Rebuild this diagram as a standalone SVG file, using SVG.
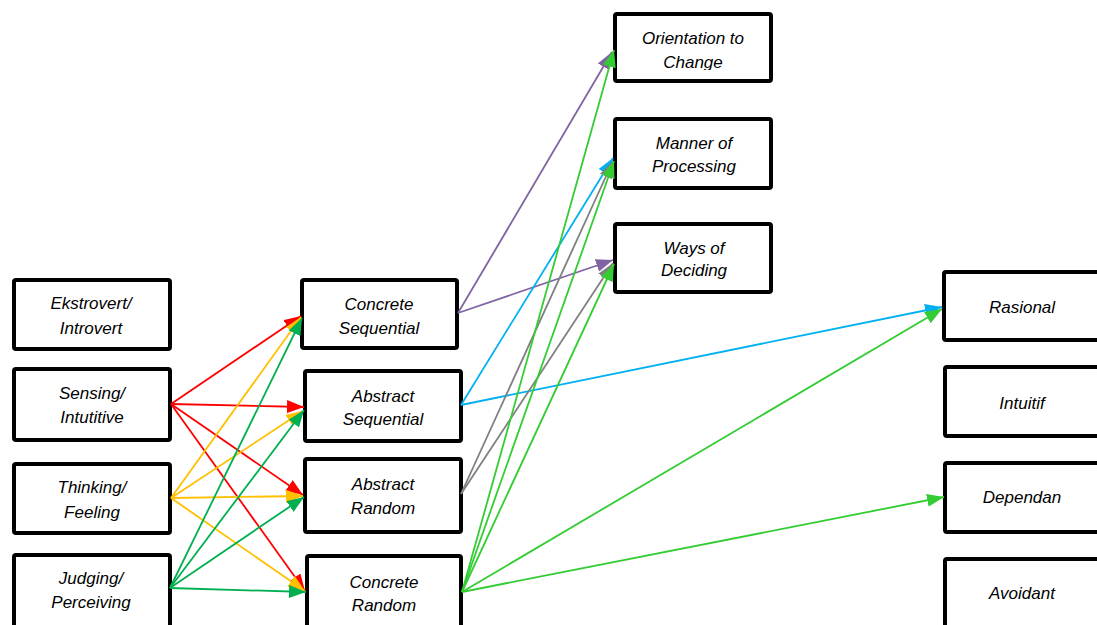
<svg xmlns="http://www.w3.org/2000/svg" width="1097" height="625" viewBox="0 0 1097 625">
<defs>
<style>
.box{fill:#fff;stroke:#000;stroke-width:4}
.t{font-family:"Liberation Sans",Arial,sans-serif;font-style:italic;font-size:17px;fill:#000;text-anchor:middle}
.c{fill:none;stroke-width:1.8}
</style>
<marker id="aR" markerUnits="userSpaceOnUse" markerWidth="17" markerHeight="13" refX="17" refY="6.5" orient="auto"><path d="M0,0 L17,6.5 L0,13 z" fill="#ff0000"/></marker>
<marker id="aY" markerUnits="userSpaceOnUse" markerWidth="17" markerHeight="13" refX="17" refY="6.5" orient="auto"><path d="M0,0 L17,6.5 L0,13 z" fill="#ffc000"/></marker>
<marker id="aG" markerUnits="userSpaceOnUse" markerWidth="17" markerHeight="13" refX="17" refY="6.5" orient="auto"><path d="M0,0 L17,6.5 L0,13 z" fill="#00b050"/></marker>
<marker id="aP" markerUnits="userSpaceOnUse" markerWidth="17" markerHeight="13" refX="17" refY="6.5" orient="auto"><path d="M0,0 L17,6.5 L0,13 z" fill="#8064a2"/></marker>
<marker id="aB" markerUnits="userSpaceOnUse" markerWidth="17" markerHeight="13" refX="17" refY="6.5" orient="auto"><path d="M0,0 L17,6.5 L0,13 z" fill="#00b0f0"/></marker>
<marker id="aK" markerUnits="userSpaceOnUse" markerWidth="17" markerHeight="13" refX="17" refY="6.5" orient="auto"><path d="M0,0 L17,6.5 L0,13 z" fill="#808080"/></marker>
<marker id="aL" markerUnits="userSpaceOnUse" markerWidth="17" markerHeight="13" refX="17" refY="6.5" orient="auto"><path d="M0,0 L17,6.5 L0,13 z" fill="#33cc33"/></marker>
<clipPath id="clipOC"><rect x="617" y="16" width="152" height="54"/></clipPath>
</defs>

<g id="ekstrovert"><rect class="box" x="14" y="280" width="156" height="69" rx="2"/><text class="t" x="91" y="309">Ekstrovert/</text><text class="t" x="91" y="334">Introvert</text></g>
<g id="sensing"><rect class="box" x="14" y="369" width="156" height="71" rx="2"/><text class="t" x="92" y="399">Sensing/</text><text class="t" x="92" y="423">Intutitive</text></g>
<g id="thinking"><rect class="box" x="14" y="464" width="156" height="69" rx="2"/><text class="t" x="92" y="493">Thinking/</text><text class="t" x="92" y="518">Feeling</text></g>
<g id="judging"><rect class="box" x="14" y="555" width="156" height="80" rx="2"/><text class="t" x="91" y="584">Judging/</text><text class="t" x="91" y="608">Perceiving</text></g>

<g id="concrete-sequential"><rect class="box" x="302" y="280" width="155" height="68" rx="2"/><text class="t" x="379" y="310">Concrete</text><text class="t" x="379" y="334">Sequential</text></g>
<g id="abstract-sequential"><rect class="box" x="305" y="371" width="156" height="70" rx="2"/><text class="t" x="383" y="402">Abstract</text><text class="t" x="383" y="425">Sequential</text></g>
<g id="abstract-random"><rect class="box" x="305" y="459" width="156" height="73" rx="2"/><text class="t" x="383" y="490">Abstract</text><text class="t" x="383" y="514">Random</text></g>
<g id="concrete-random"><rect class="box" x="307" y="556" width="154" height="80" rx="2"/><text class="t" x="384" y="588">Concrete</text><text class="t" x="384" y="611">Random</text></g>

<g id="orientation"><rect class="box" x="615" y="14" width="156" height="67" rx="2"/><g clip-path="url(#clipOC)"><text class="t" x="693" y="44">Orientation to</text><text class="t" x="693" y="68">Change</text></g></g>
<g id="manner"><rect class="box" x="615" y="119" width="156" height="69" rx="2"/><text class="t" x="694" y="149">Manner of</text><text class="t" x="694" y="172">Processing</text></g>
<g id="ways"><rect class="box" x="615" y="224" width="156" height="68" rx="2"/><text class="t" x="694" y="254">Ways of</text><text class="t" x="694" y="276">Deciding</text></g>

<g id="rasional"><rect class="box" x="944" y="272" width="160" height="68" rx="2"/><text class="t" x="1022" y="313">Rasional</text></g>
<g id="intuitif"><rect class="box" x="945" y="367" width="160" height="69" rx="2"/><text class="t" x="1022" y="409">Intuitif</text></g>
<g id="dependan"><rect class="box" x="945" y="463" width="160" height="69" rx="2"/><text class="t" x="1022" y="503">Dependan</text></g>
<g id="avoidant"><rect class="box" x="945" y="559" width="160" height="80" rx="2"/><text class="t" x="1022" y="599">Avoidant</text></g>

<g id="connectors">
<line class="c" stroke="#ff0000" marker-end="url(#aR)" x1="171" y1="404" x2="301" y2="316"/>
<line class="c" stroke="#ff0000" marker-end="url(#aR)" x1="171" y1="404" x2="304" y2="407"/>
<line class="c" stroke="#ff0000" marker-end="url(#aR)" x1="171" y1="404" x2="303" y2="495"/>
<line class="c" stroke="#ff0000" marker-end="url(#aR)" x1="171" y1="404" x2="305" y2="591"/>

<line class="c" stroke="#ffc000" marker-end="url(#aY)" x1="171" y1="498" x2="301" y2="317"/>
<line class="c" stroke="#ffc000" marker-end="url(#aY)" x1="171" y1="498" x2="303" y2="411"/>
<line class="c" stroke="#ffc000" marker-end="url(#aY)" x1="171" y1="498" x2="303" y2="496"/>
<line class="c" stroke="#ffc000" marker-end="url(#aY)" x1="171" y1="498" x2="305" y2="591"/>

<line class="c" stroke="#00b050" marker-end="url(#aG)" x1="170" y1="588" x2="302" y2="318"/>
<line class="c" stroke="#00b050" marker-end="url(#aG)" x1="170" y1="588" x2="304" y2="410"/>
<line class="c" stroke="#00b050" marker-end="url(#aG)" x1="170" y1="588" x2="304" y2="497"/>
<line class="c" stroke="#00b050" marker-end="url(#aG)" x1="170" y1="588" x2="306" y2="592"/>

<line class="c" stroke="#8064a2" marker-end="url(#aP)" x1="458" y1="313" x2="612" y2="52"/>
<line class="c" stroke="#8064a2" marker-end="url(#aP)" x1="458" y1="313" x2="613" y2="260"/>

<line class="c" stroke="#00b0f0" marker-end="url(#aB)" x1="461" y1="405" x2="613" y2="158"/>
<line class="c" stroke="#00b0f0" marker-end="url(#aB)" x1="461" y1="405" x2="942" y2="307"/>

<line class="c" stroke="#808080" marker-end="url(#aK)" x1="461" y1="494" x2="613" y2="161"/>
<line class="c" stroke="#808080" marker-end="url(#aK)" x1="461" y1="494" x2="613" y2="263"/>

<line class="c" stroke="#33cc33" marker-end="url(#aL)" x1="462" y1="592" x2="614" y2="50"/>
<line class="c" stroke="#33cc33" marker-end="url(#aL)" x1="462" y1="592" x2="614" y2="161"/>
<line class="c" stroke="#33cc33" marker-end="url(#aL)" x1="462" y1="592" x2="614" y2="264"/>
<line class="c" stroke="#33cc33" marker-end="url(#aL)" x1="462" y1="592" x2="942" y2="309"/>
<line class="c" stroke="#33cc33" marker-end="url(#aL)" x1="462" y1="592" x2="944" y2="497"/>
</g>
</svg>
